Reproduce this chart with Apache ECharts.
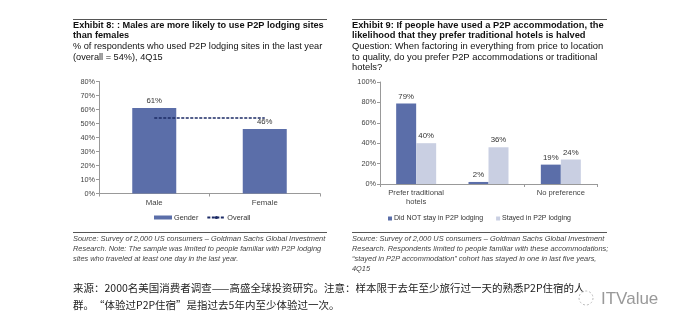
<!DOCTYPE html>
<html><head><meta charset="utf-8">
<script src="https://cdn.jsdelivr.net/npm/echarts@6/dist/echarts.min.js"></script>
<style>html,body{margin:0;padding:0;background:#fff}#c{width:680px;height:326px}</style>
</head><body><div id="c"></div>
<script>
// Exhibit 8 data
const genderCats = ['Male', 'Female'];
const genderVals = [61, 46];
const overallVals = [54, 54];
const leftTicks = [0, 80, 10];
// Exhibit 9 data
const prefCats = ['Prefer traditional\nhotels', 'Prefer peer-to-peer\naccommodations', 'No preference'];
const notStayedVals = [79, 2, 19];
const stayedVals = [40, 36, 24];
const rightTicks = [0, 100, 20];

const F = 'Liberation Sans, Arial, sans-serif';
const chart = echarts.init(document.getElementById('c'));

function txt(x, y, s, font, fill) {
  return { type: 'text', x: x, y: y, silent: true,
    style: { text: s, font: font, fill: fill || '#111', verticalAlign: 'middle', align: 'left' } };
}
function rule(x1, x2, y) {
  return { type: 'line', silent: true, shape: { x1: x1, y1: y, x2: x2, y2: y }, style: { stroke: '#555', lineWidth: 1 } };
}
const TB = 'bold 9.2px ' + F, TN = '9.2px ' + F, SI = 'italic 7.4px ' + F, CN = '10.5px "Noto Sans CJK SC", sans-serif';
const graphics = [
  rule(73, 327, 19.5),
  txt(73, 25, 'Exhibit 8: : Males are more likely to use P2P lodging sites', TB),
  txt(73, 35, 'than females', TB),
  txt(73, 46.7, '% of respondents who used P2P lodging sites in the last year', TN),
  txt(73, 57.3, '(overall = 54%), 4Q15', TN),
  rule(73, 327, 232.5),
  txt(73, 238.5, 'Source: Survey of 2,000 US consumers \u2013 Goldman Sachs Global Investment', SI, '#444'),
  txt(73, 248.5, 'Research. Note: The sample was limited to people familiar with P2P lodging', SI, '#444'),
  txt(73, 258.5, 'sites who traveled at least one day in the last year.', SI, '#444'),

  rule(352, 607, 19.5),
  txt(352, 25, 'Exhibit 9: If people have used a P2P accommodation, the', 'bold 9.3px ' + F),
  txt(352, 35, 'likelihood that they prefer traditional hotels is halved', 'bold 9.3px ' + F),
  txt(352, 46.7, 'Question: When factoring in everything from price to location', '9.4px ' + F),
  txt(352, 57, 'to quality, do you prefer P2P accommodations or traditional', '9.4px ' + F),
  txt(352, 67.3, 'hotels?', '9.4px ' + F),
  rule(352, 607, 232.5),
  txt(352, 238.5, 'Source: Survey of 2,000 US consumers \u2013 Goldman Sachs Global Investment', SI, '#444'),
  txt(352, 248.7, 'Research. Respondents limited to people familiar with these accommodations;', SI, '#444'),
  txt(352, 258.9, '\u201cstayed in P2P accommodation\u201d cohort has stayed in one in last five years,', SI, '#444'),
  txt(352, 269.1, '4Q15', SI, '#444'),

  txt(73, 288.5, '来源：2000名美国消费者调查——高盛全球投资研究。注意：样本限于去年至少旅行过一天的熟悉P2P住宿的人', CN, '#222'),
  txt(73, 305, '群。“体验过P2P住宿”是指过去5年内至少体验过一次。', CN, '#222'),
  { type: 'circle', silent: true, shape: { cx: 586, cy: 298, r: 7 }, style: { fill: 'rgba(255,255,255,0.85)', stroke: '#bbb', lineWidth: 1, lineDash: [2, 2] } },
  txt(601, 299, 'ITValue', '17px ' + F, '#999')
];

const axisLbl = { color: '#444', fontSize: 7.3, fontFamily: F };
chart.setOption({
  animation: false,
  graphic: graphics,
  grid: [
    { left: 99, top: 81.5, width: 221, height: 112, containLabel: false },
    { left: 380, top: 82, width: 217, height: 102, containLabel: false }
  ],
  legend: [
    { left: 154, top: 214, padding: 0, itemGap: 8, itemWidth: 18, itemHeight: 4,
      textStyle: { color: '#333', fontSize: 7.3, fontFamily: F, padding: [0, 0, 0, -3] },
      data: [{ name: 'Gender', icon: 'rect' }, { name: 'Overall' }] },
    { left: 388, top: 215, padding: 0, itemGap: 13, itemWidth: 4, itemHeight: 4,
      textStyle: { color: '#333', fontSize: 7, fontFamily: F, padding: [0, 0, 0, -3] },
      data: [{ name: 'Did NOT stay in P2P lodging', icon: 'rect' }, { name: 'Stayed in P2P lodging', icon: 'rect' }] }
  ],
  xAxis: [
    { type: 'category', gridIndex: 0, data: genderCats,
      axisLine: { lineStyle: { color: '#999' } }, axisTick: { show: true, lineStyle: { color: '#999' }, length: 3 },
      axisLabel: Object.assign({ margin: 5 }, axisLbl, { fontSize: 7.8 }) },
    { type: 'category', gridIndex: 1, data: prefCats,
      axisLine: { lineStyle: { color: '#999' } }, axisTick: { show: true, lineStyle: { color: '#999' }, length: 3 },
      axisLabel: Object.assign({ margin: 5, lineHeight: 8.5 }, axisLbl, { fontSize: 7.6 }) }
  ],
  yAxis: [
    { type: 'value', gridIndex: 0, min: leftTicks[0], max: leftTicks[1], interval: leftTicks[2],
      splitLine: { show: false }, axisLine: { show: true, lineStyle: { color: '#999' } },
      axisTick: { show: true, length: 3, lineStyle: { color: '#999' } },
      axisLabel: Object.assign({ margin: 4, formatter: '{value}%' }, axisLbl) },
    { type: 'value', gridIndex: 1, min: rightTicks[0], max: rightTicks[1], interval: rightTicks[2],
      splitLine: { show: false }, axisLine: { show: true, lineStyle: { color: '#999' } },
      axisTick: { show: true, length: 3, lineStyle: { color: '#999' } },
      axisLabel: Object.assign({ margin: 4, formatter: '{value}%' }, axisLbl) }
  ],
  series: [
    { name: 'Gender', type: 'bar', xAxisIndex: 0, yAxisIndex: 0, data: genderVals, barWidth: 44,
      itemStyle: { color: '#5b6ea9' },
      label: { show: true, position: 'top', distance: 3, formatter: '{c}%', color: '#333', fontSize: 7.8, fontFamily: F } },
    { name: 'Overall', type: 'line', xAxisIndex: 0, yAxisIndex: 0, data: overallVals, symbol: 'none',
      lineStyle: { color: '#1c2b66', width: 1.5, type: [3, 1.5] }, itemStyle: { color: '#1c2b66' } },
    { name: 'Did NOT stay in P2P lodging', type: 'bar', xAxisIndex: 1, yAxisIndex: 1, data: notStayedVals,
      barWidth: 20, barGap: '0%', itemStyle: { color: '#5b6ea9' },
      label: { show: true, position: 'top', distance: 3, formatter: '{c}%', color: '#333', fontSize: 7.8, fontFamily: F } },
    { name: 'Stayed in P2P lodging', type: 'bar', xAxisIndex: 1, yAxisIndex: 1, data: stayedVals,
      barWidth: 20, barGap: '0%', itemStyle: { color: '#c9cfe2' },
      label: { show: true, position: 'top', distance: 3, formatter: '{c}%', color: '#333', fontSize: 7.8, fontFamily: F } }
  ]
});
</script></body></html>
